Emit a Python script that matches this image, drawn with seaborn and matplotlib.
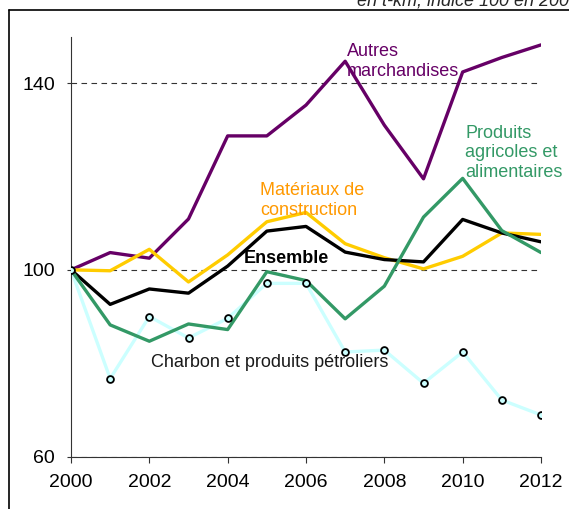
import matplotlib.pyplot as plt
import pandas as pd
import seaborn as sns
from matplotlib.lines import Line2D


YEARS = list(range(2000, 2013))
AUTRES = [100, 103.7, 102.5, 110.9, 128.7, 128.7, 135.3, 144.7, 131.0, 119.5, 142.4, 145.5, 148.2]
MATERIAUX = [100, 99.8, 104.4, 97.4, 103.2, 110.3, 112.3, 105.6, 102.6, 100.2, 102.9, 107.9, 107.6]
ENSEMBLE = [100, 92.6, 95.9, 95.0, 100.8, 108.3, 109.3, 103.8, 102.2, 101.7, 110.8, 107.9, 106.0]
AGRICOLES = [100, 88.2, 84.7, 88.4, 87.2, 99.6, 97.7, 89.5, 96.5, 111.3, 119.6, 108.4, 103.7]
CHARBON = [100, 76.7, 90.0, 85.4, 89.6, 97.1, 97.1, 82.4, 82.8, 75.7, 82.4, 72.1, 68.9]

X_TICKS = [2000, 2002, 2004, 2006, 2008, 2010, 2012]
Y_TICKS = [60, 100, 140]
SUBTITLE = "en t-km, indice 100 en 2000"


def setup_style():
    sns.set_theme(style="ticks")
    plt.rcParams["font.family"] = ["Liberation Sans", "DejaVu Sans"]
    plt.rcParams["figure.facecolor"] = "white"
    plt.rcParams["axes.facecolor"] = "white"


def main():
    setup_style()
    df = pd.DataFrame({
        "year": YEARS,
        "autres": AUTRES,
        "materiaux": MATERIAUX,
        "ensemble": ENSEMBLE,
        "agricoles": AGRICOLES,
        "charbon": CHARBON,
    })

    fig = plt.figure(figsize=(5.69, 5.09), dpi=100)
    ax = fig.add_axes([71 / 569, 1 - 456.5 / 509, 470 / 569, 420 / 509])

    lw = 2.4
    sns.lineplot(data=df, x="year", y="charbon", color="#ccffff", lw=lw, ax=ax, zorder=2)
    sns.lineplot(data=df, x="year", y="autres", color="#660066", lw=lw, ax=ax, zorder=3)
    sns.lineplot(data=df, x="year", y="materiaux", color="#ffcc00", lw=lw, ax=ax, zorder=3)
    sns.lineplot(data=df, x="year", y="ensemble", color="black", lw=lw, ax=ax, zorder=4)
    sns.lineplot(data=df, x="year", y="agricoles", color="#339966", lw=lw, ax=ax, zorder=4)
    sns.scatterplot(data=df, x="year", y="charbon", marker="o", s=24, color="#ccffff",
                    edgecolor="black", linewidth=1.3, ax=ax, zorder=6)

    ax.set_xlim(2000, 2012)
    ax.set_ylim(60, 150)
    ax.set_xticks(X_TICKS)
    ax.set_yticks(Y_TICKS)
    ax.set_xlabel("")
    ax.set_ylabel("")
    ax.grid(axis="y", color="#333333", linestyle=(0, (5, 4)), linewidth=0.8)
    ax.set_axisbelow(True)
    sns.despine(ax=ax)
    for side in ["left", "bottom"]:
        ax.spines[side].set_color("#333333")
        ax.spines[side].set_linewidth(0.8)
    ax.tick_params(axis="both", labelsize=14, colors="#333333", labelcolor="black", width=0.8)
    ax.tick_params(axis="y", length=3, pad=8.5)
    ax.tick_params(axis="x", length=4, pad=8.5)

    # va="baseline" on multi-line text anchors the last line
    ax.text(2007.05, 141.6, "Autres\nmarchandises", color="#660066", fontsize=13, va="baseline")
    ax.text(2004.83, 111.8, "Matériaux de\nconstruction", color="#ff9900", fontsize=13, va="baseline")
    ax.text(2010.06, 119.9, "Produits\nagricoles et\nalimentaires", color="#339966", fontsize=13,
            va="baseline")
    ax.text(2004.4, 101.5, "Ensemble", color="black", fontsize=13, fontweight="bold", va="baseline")
    ax.text(2002.03, 79.1, "Charbon et produits pétroliers", color="#1a1a1a", fontsize=13,
            va="baseline")

    # cadre autour du graphique et sous-titre coupé en haut
    fig.add_artist(Line2D([9 / 569, 9 / 569], [0, 1 - 10 / 509], color="black", lw=1.2))
    fig.add_artist(Line2D([9 / 569, 1], [1 - 10 / 509, 1 - 10 / 509], color="black", lw=1.2))
    fig.text(357 / 569, 1 - 5 / 509, SUBTITLE, fontsize=13, style="italic", va="baseline")

    fig.savefig("out.png", dpi=100)
    plt.close(fig)


if __name__ == "__main__":
    main()
